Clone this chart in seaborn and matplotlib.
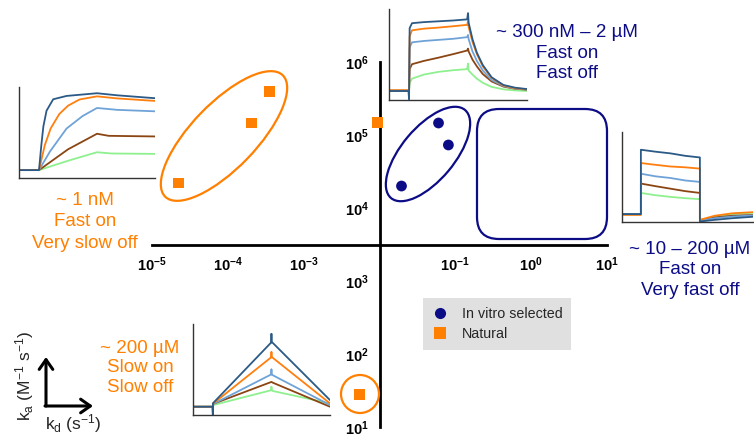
import numpy as np
import pandas as pd
import matplotlib
matplotlib.use("Agg")
import matplotlib.pyplot as plt
import seaborn as sns
from matplotlib.patches import Ellipse, Circle, FancyBboxPatch, FancyArrowPatch

# ---------------- data ----------------
groups = ["In vitro selected"] * 3 + ["Natural"] * 5
kd = [0.060, 0.081, 0.0195, 2.26e-5, 2.07e-4, 3.57e-4, 9.4e-3, 5.5e-3]
ka = [1.46e5, 7.3e4, 2.0e4, 2.2e4, 1.46e5, 3.9e5, 1.5e5, 28]

x_ticks = [1e-5, 1e-4, 1e-3, 1e-1, 1e0, 1e1]
x_ticklabels = [r"$\mathbf{10^{-5}}$", r"$\mathbf{10^{-4}}$", r"$\mathbf{10^{-3}}$",
                r"$\mathbf{10^{-1}}$", r"$\mathbf{10^{0}}$", r"$\mathbf{10^{1}}$"]
y_ticks = [1e1, 1e2, 1e3, 1e4, 1e5, 1e6]
y_ticklabels = [r"$\mathbf{10^{1}}$", r"$\mathbf{10^{2}}$", r"$\mathbf{10^{3}}$",
                r"$\mathbf{10^{4}}$", r"$\mathbf{10^{5}}$", r"$\mathbf{10^{6}}$"]

# sensorgram insets (time in injection units, response in tick units)
concs = ["c1", "c2", "c3", "c4", "c5"]
# inset 1: ~1 nM, fast on, very slow off
s1_t = {"c5": [-0.69, 0, 0.08, 0.15, 0.26, 0.49, 0.95, 2.0, 2.7, 4.0],
        "c4": [-0.69, 0, 0.2, 0.4, 0.7, 1.0, 1.4, 2.0, 2.7, 4.0],
        "c3": [-0.69, 0, 0.38, 0.95, 1.5, 2.0, 2.7, 4.0],
        "c2": [-0.69, 0, 1.0, 2.0, 2.4, 4.0],
        "c1": [-0.69, 0, 1.0, 2.0, 2.5, 4.0]}
s1_r = {"c5": [0, 0, 1.2, 2.1, 2.86, 3.41, 3.57, 3.7, 3.6, 3.46],
        "c4": [0, 0, 1.2, 2.0, 2.7, 3.1, 3.4, 3.55, 3.45, 3.33],
        "c3": [0, 0, 0.9, 2.0, 2.6, 2.99, 2.9, 2.83],
        "c2": [0, 0, 1.0, 1.75, 1.65, 1.62],
        "c1": [0, 0, 0.45, 0.86, 0.8, 0.78]}
# inset 2: ~300 nM - 2 uM, fast on, fast off
s2_t = [-0.68, -0.02, 0.0, 0.02, 0.1, 0.5, 1.0, 1.5, 1.97, 2.0, 2.02, 2.15, 2.3, 2.5, 2.8, 3.2, 3.6, 4.0]
s2_r = {"c5": [0, 0, -0.3, 2.3, 2.48, 2.52, 2.55, 2.58, 2.62, 2.85, 2.5, 1.9, 1.4, 0.95, 0.5, 0.22, 0.12, 0.07],
        "c4": [0.03, 0.03, 0.03, 2.0, 2.22, 2.28, 2.32, 2.37, 2.42, 2.55, 2.35, 1.8, 1.35, 0.9, 0.48, 0.2, 0.1, 0.06],
        "c3": [0.02, 0.02, 0.02, 1.6, 1.78, 1.83, 1.87, 1.91, 1.97, 2.05, 1.9, 1.45, 1.1, 0.75, 0.4, 0.18, 0.09, 0.05],
        "c2": [0, 0, 0, 0.8, 0.98, 1.1, 1.22, 1.35, 1.48, 1.55, 1.45, 1.15, 0.9, 0.62, 0.35, 0.16, 0.08, 0.05],
        "c1": [0, 0, 0, 0.3, 0.45, 0.6, 0.7, 0.76, 0.8, 1.0, 0.75, 0.6, 0.45, 0.3, 0.15, 0.06, 0.02, 0.0]}
# inset 3: ~10 - 200 uM, fast on, very fast off
s3_t = [-0.64, 0, 0, 0.5, 1.0, 1.5, 2.0, 2.0, 2.5, 3.1, 3.8]
s3_r = {"c5": [0, 0, 3.92, 3.8, 3.7, 3.55, 3.45, -0.45, -0.35, -0.25, -0.16],
        "c4": [-0.05, -0.05, 3.11, 3.0, 2.9, 2.85, 2.77, -0.35, -0.1, 0.05, 0.12],
        "c3": [0, 0, 2.46, 2.3, 2.2, 2.05, 1.96, -0.4, -0.25, -0.15, -0.08],
        "c2": [0, 0, 1.86, 1.7, 1.55, 1.4, 1.29, -0.4, -0.2, -0.1, -0.05],
        "c1": [0, 0, 1.29, 1.15, 1.05, 0.97, 0.91, -0.35, -0.15, 0.0, 0.08]}
# inset 4: ~200 uM, slow on, slow off
s4_t = [-0.68, -0.02, 0.0, 0.0, 0.05, 2.0, 2.0, 2.0, 2.05, 4.0]
s4_r = {"c5": [0, 0, -0.6, 0.2, 0.3, 3.9, 4.4, 3.9, 3.85, 0.4],
        "c4": [0, 0, 0, 0.2, 0.25, 3.0, 3.3, 3.0, 2.95, 0.2],
        "c3": [0, 0, 0, 0.15, 0.2, 1.96, 2.25, 1.96, 1.9, 0.1],
        "c2": [0, 0, 0, 0.15, 0.2, 1.5, 1.5, 1.5, 1.45, 0.0],
        "c1": [0, 0, 0, 0.1, 0.12, 1.0, 1.2, 1.0, 0.95, 0.2]}

# ---------------- style ----------------
sns.set_style("white")
plt.rcParams["font.family"] = ["Liberation Sans", "DejaVu Sans"]
plt.rcParams["mathtext.fontset"] = "custom"
plt.rcParams["mathtext.rm"] = "Liberation Sans"
plt.rcParams["mathtext.it"] = "Liberation Sans:italic"
plt.rcParams["mathtext.bf"] = "Liberation Sans:bold"

NAVY = "#0c0c86"
ORANGE = "#ff8000"
curve_pal = {"c5": "#2b5a86", "c4": "#ff7f0e", "c3": "#6fa3d8", "c2": "#8b4513", "c1": "#8ff08f"}

W, H = 754, 438
fig = plt.figure(figsize=(W / 100, H / 100), dpi=100)


def fx(px):
    return px / W


def fy(py):
    return 1 - py / H


ax = fig.add_axes([fx(152), fy(427), fx(607) - fx(152), fy(62) - fy(427)])
ax.set_facecolor("none")

df = pd.DataFrame({"kd": kd, "ka": ka, "group": groups})
sns.scatterplot(data=df, x="kd", y="ka", hue="group", style="group",
                markers={"In vitro selected": "o", "Natural": "s"},
                palette={"In vitro selected": NAVY, "Natural": ORANGE},
                s=60, edgecolor="none", linewidth=0, ax=ax, zorder=5)
ax.set_xscale("log")
ax.set_yscale("log")
ax.set_xlim(1e-5, 1e1)
ax.set_ylim(10, 1e6)
ax.set_xlabel("")
ax.set_ylabel("")
ax.spines["left"].set_position(("data", 1e-2))
ax.spines["bottom"].set_position(("data", 10 ** 3.5))
ax.spines["top"].set_visible(False)
ax.spines["right"].set_visible(False)
for s in ["left", "bottom"]:
    ax.spines[s].set_linewidth(2.0)
    ax.spines[s].set_color("black")
ax.set_xticks(x_ticks)
ax.set_xticklabels(x_ticklabels, fontsize=10.5)
ax.set_yticks(y_ticks)
ax.set_yticklabels(y_ticklabels, fontsize=10.5)
ax.minorticks_off()
ax.tick_params(axis="both", which="major", direction="out", length=4.5, width=2.0,
               color="black", labelcolor="black", pad=3)

handles, labels = ax.get_legend_handles_labels()
for h in handles:
    try:
        h.set_markersize(8)
    except Exception:
        pass
leg = ax.legend(handles, labels, loc="upper left", bbox_to_anchor=(fx(423), fy(298)),
                bbox_transform=fig.transFigure, frameon=True, facecolor="#e0e0e0",
                edgecolor="none", framealpha=1, fancybox=False, borderaxespad=0,
                fontsize=10.3, handletextpad=0.9, labelspacing=0.45,
                borderpad=0.6, handlelength=1.2)
leg.get_frame().set_linewidth(0)

# ---------------- highlight shapes (figure pixels -> inches) ----------------
tr = fig.dpi_scale_trans


def inch(px, py):
    return (px / 100, (H - py) / 100)


fig.add_artist(Ellipse(inch(224, 136), 169 / 100, 65 / 100, angle=46, transform=tr,
                       fill=False, ec=ORANGE, lw=1.6))
fig.add_artist(Ellipse(inch(428, 154), 115 / 100, 53 / 100, angle=50, transform=tr,
                       fill=False, ec=NAVY, lw=1.6))
fig.add_artist(Circle(inch(360, 394), 19 / 100, transform=tr, fill=False, ec=ORANGE, lw=1.6))
x0, y0 = inch(477, 239)
fig.add_artist(FancyBboxPatch((x0, y0), 130 / 100, 130 / 100,
                              boxstyle="round,pad=0,rounding_size=0.22", transform=tr,
                              fill=False, ec=NAVY, lw=1.6))


# ---------------- insets ----------------
def make_inset(box, t, r, xlim, ylim, xticks, yticks):
    l, rr, top, bot = box
    ia = fig.add_axes([fx(l), fy(bot), fx(rr) - fx(l), fy(top) - fy(bot)])
    ia.set_facecolor("none")
    rows = []
    for c in concs:
        tt = t[c] if isinstance(t, dict) else t
        for i, (a, b) in enumerate(zip(tt, r[c])):
            rows.append({"t": a, "resp": b, "conc": c, "order": i})
    d = pd.DataFrame(rows)
    sns.lineplot(data=d, x="t", y="resp", hue="conc", hue_order=concs, palette=curve_pal,
                 sort=False, estimator=None, units="conc", legend=False, lw=1.3, ax=ia)
    ia.set_xlim(*xlim)
    ia.set_ylim(*ylim)
    ia.set_xticks(xticks)
    ia.set_yticks(yticks)
    ia.set_xticklabels([])
    ia.set_yticklabels([])
    ia.set_xlabel("")
    ia.set_ylabel("")
    for s in ["top", "right"]:
        ia.spines[s].set_visible(False)
    for s in ["left", "bottom"]:
        ia.spines[s].set_linewidth(1.0)
        ia.spines[s].set_color("#333333")
    ia.tick_params(direction="out", length=3, width=1.0, color="#333333", pad=0)
    return ia


make_inset((19, 155, 87, 178), s1_t, s1_r, (-0.69, 4.0), (-0.38, 4.0), [0, 1, 2, 3, 4], [0, 1, 2, 3, 4])
make_inset((389, 527, 9, 100), s2_t, s2_r, (-0.68, 4.0), (-0.33, 3.0), [0, 1, 2, 3, 4], [0, 1, 2, 3])
make_inset((622, 753, 132, 222), s3_t, s3_r, (-0.64, 3.8), (-0.48, 5.0), [0, 1, 2, 3], [0, 1, 2, 3, 4, 5])
make_inset((193, 330, 324, 415), s4_t, s4_r, (-0.68, 4.0), (-0.5, 5.0), [0, 1, 2, 3, 4], [0, 1, 2, 3, 4, 5])

# ---------------- annotation text ----------------
fs = 13.5
fig.text(fx(85), fy(222), "~ 1 nM\nFast on\nVery slow off", color=ORANGE, fontsize=fs,
         ha="center", va="center", linespacing=1.32)
fig.text(fx(567), fy(53), "~ 300 nM – 2 µM\nFast on\nFast off", color=NAVY, fontsize=fs,
         ha="center", va="center", linespacing=1.25)
fig.text(fx(690), fy(270), "~ 10 – 200 µM\nFast on\nVery fast off", color=NAVY, fontsize=fs,
         ha="center", va="center", linespacing=1.27)
fig.text(fx(140), fy(368), "~ 200 µM\nSlow on\nSlow off", color=ORANGE, fontsize=fs,
         ha="center", va="center", linespacing=1.2)

# axis key arrows
arrow_kw = dict(arrowstyle="->,head_length=0.5,head_width=0.35", lw=2.2, color="black",
                shrinkA=0, shrinkB=0)
fig.add_artist(FancyArrowPatch(inch(46, 406), inch(46, 357), transform=tr,
                               mutation_scale=14, **arrow_kw))
fig.add_artist(FancyArrowPatch(inch(45, 406), inch(93, 406), transform=tr,
                               mutation_scale=14, **arrow_kw))
fig.text(fx(25), fy(376), r"k$_\mathrm{a}$ (M$^{-1}$ s$^{-1}$)", rotation=90, fontsize=12.5,
         ha="center", va="center")
fig.text(fx(73), fy(424), r"k$_\mathrm{d}$ (s$^{-1}$)", fontsize=12.5, ha="center", va="center")

fig.savefig("out.png", dpi=100)
